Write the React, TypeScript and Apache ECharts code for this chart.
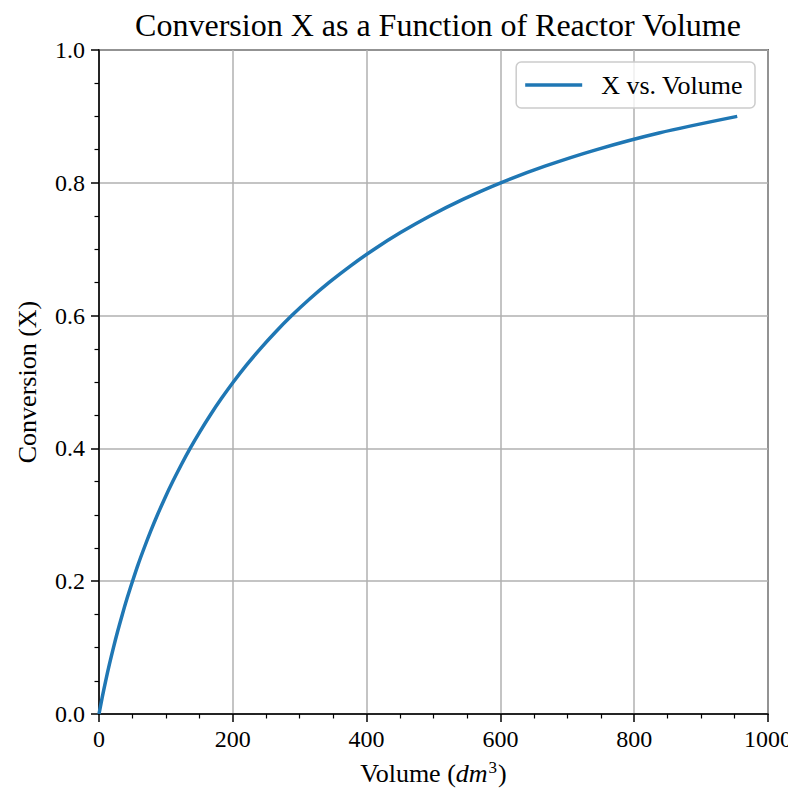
import React, { useEffect, useRef } from "react";
import * as echarts from "echarts";

const volumes = [0, 4.8, 10.0, 15.6, 21.6, 28.0, 34.9, 42.2, 50.1, 58.4, 67.5, 77.1, 87.4, 98.4, 110.2, 122.8, 136.2, 150.7, 166.2, 182.9, 200.8, 220.1, 241.0, 263.6, 288.1, 314.8, 344.0, 376.1, 411.4, 450.7, 494.6, 544.0, 600.5, 666.5, 744.0, 837.0, 954.0];
const conversions = [0, 0.025, 0.05, 0.075, 0.1, 0.125, 0.15, 0.175, 0.2, 0.225, 0.25, 0.275, 0.3, 0.325, 0.35, 0.375, 0.4, 0.425, 0.45, 0.475, 0.5, 0.525, 0.55, 0.575, 0.6, 0.625, 0.65, 0.675, 0.7, 0.725, 0.75, 0.775, 0.8, 0.825, 0.85, 0.875, 0.9];
const seriesName = "X vs. Volume";
const titleText = "Conversion X as a Function of Reactor Volume";

const FONT = "Liberation Serif";

export default function App() {
  const ref = useRef<HTMLDivElement>(null);
  useEffect(() => {
    if (!ref.current) return;
    const chart = echarts.init(ref.current, null, { renderer: "svg" });
    const data = volumes.map((v, i) => [v, conversions[i]]);
    chart.setOption({
      animation: false,
      backgroundColor: "#ffffff",
      textStyle: { fontFamily: FONT, color: "#000" },
      title: {
        text: titleText,
        left: 433,
        textAlign: "center",
        top: 4,
        textStyle: { fontFamily: FONT, fontSize: 32, fontWeight: "normal", color: "#000" },
      },
      grid: {
        left: 99,
        right: 28,
        top: 50,
        bottom: 82,
        show: true,
        borderColor: "#000",
        borderWidth: 1.5,
        backgroundColor: "transparent",
      },
      legend: {
        right: 41,
        top: 62,
        data: [{ name: seriesName, icon: "rect" }],
        backgroundColor: "rgba(255,255,255,0.8)",
        borderColor: "#cccccc",
        borderWidth: 1.5,
        borderRadius: 5,
        padding: [10, 12, 10, 9],
        itemWidth: 57,
        itemHeight: 3.5,
        itemStyle: { color: "#1f77b4" },
        textStyle: { fontFamily: FONT, fontSize: 26, color: "#000", padding: [0, 0, 0, 14] },
      },
      xAxis: {
        type: "value",
        min: 0,
        max: 1000,
        interval: 200,
        name: "{a|Volume (}{i|dm}{s|3}{a|)}",
        nameLocation: "middle",
        nameGap: 45,
        nameTextStyle: {
          rich: {
            a: { fontFamily: FONT, fontSize: 26, color: "#000" },
            i: { fontFamily: FONT, fontSize: 26, fontStyle: "italic", color: "#000" },
            s: { fontFamily: FONT, fontSize: 17, color: "#000", verticalAlign: "top", padding: [0, 1, 11, 1] },
          },
        },
        axisLine: { show: true, onZero: false, lineStyle: { color: "#000", width: 1.5 } },
        axisTick: { show: true, length: 8, lineStyle: { color: "#000", width: 1.5 } },
        minorTick: { show: true, splitNumber: 4, length: 4.5, lineStyle: { color: "#000", width: 1.2 } },
        axisLabel: {
          fontFamily: FONT,
          fontSize: 24,
          color: "#000",
          margin: 13,
          formatter: (v: number) => String(v),
        },
        splitLine: { show: true, lineStyle: { color: "#b0b0b0", width: 1.5 } },
      },
      yAxis: {
        type: "value",
        min: 0,
        max: 1.0,
        interval: 0.2,
        name: "Conversion (X)",
        nameLocation: "middle",
        nameGap: 59,
        nameTextStyle: { fontFamily: FONT, fontSize: 26, color: "#000" },
        axisLine: { show: true, onZero: false, lineStyle: { color: "#000", width: 1.5 } },
        axisTick: { show: true, length: 8, lineStyle: { color: "#000", width: 1.5 } },
        minorTick: { show: true, splitNumber: 4, length: 4.5, lineStyle: { color: "#000", width: 1.2 } },
        axisLabel: {
          fontFamily: FONT,
          fontSize: 24,
          color: "#000",
          margin: 14,
          formatter: (v: number) => v.toFixed(1),
        },
        splitLine: { show: true, lineStyle: { color: "#b0b0b0", width: 1.5 } },
      },
      series: [
        {
          name: seriesName,
          type: "line",
          data,
          showSymbol: false,
          symbol: "none",
          smooth: 0.3,
          lineStyle: { color: "#1f77b4", width: 3.5 },
          itemStyle: { color: "#1f77b4" },
        },
      ],
    });
    return () => chart.dispose();
  }, []);
  return <div ref={ref} style={{ width: 796, height: 796, margin: -8 }} />;
}
